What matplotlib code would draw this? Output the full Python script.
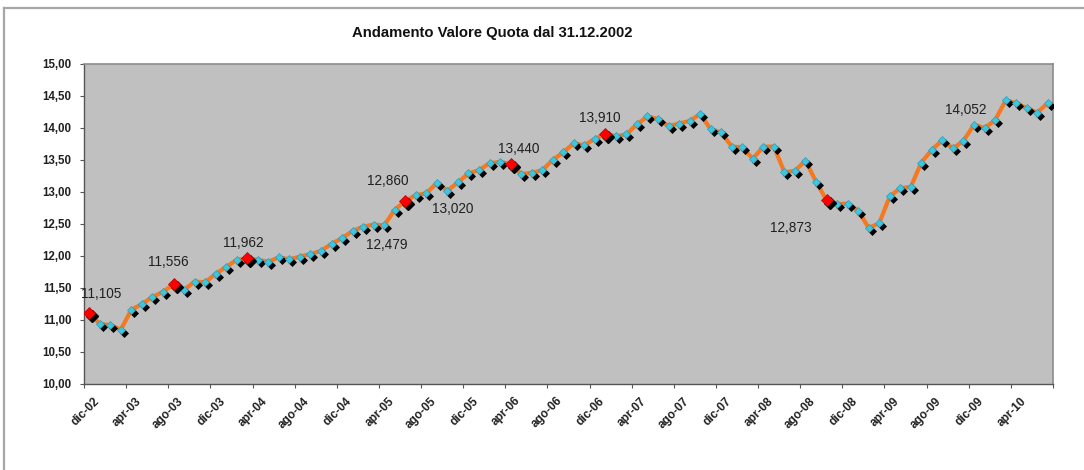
import matplotlib
matplotlib.use('Agg')
import numpy as np
import matplotlib.pyplot as plt
import matplotlib.transforms as mtransforms
from matplotlib.lines import Line2D

plt.rcParams['font.family'] = ['Liberation Sans', 'DejaVu Sans']

# ---------------- data ----------------
title = "Andamento Valore Quota dal 31.12.2002"

# monthly NAV values, dic-02 ... lug-10
values = [
    11.105, 10.94, 10.92, 10.85, 11.16, 11.25, 11.36, 11.44, 11.556, 11.47,
    11.60, 11.59, 11.72, 11.83, 11.94, 11.962, 11.94, 11.91, 11.98, 11.95,
    11.99, 12.03, 12.08, 12.19, 12.28, 12.39, 12.46, 12.49, 12.479, 12.72,
    12.860, 12.95, 12.98, 13.14, 13.020, 13.15, 13.29, 13.34, 13.45, 13.47,
    13.440, 13.28, 13.30, 13.34, 13.50, 13.62, 13.76, 13.73, 13.83, 13.910,
    13.87, 13.90, 14.06, 14.18, 14.14, 14.03, 14.07, 14.11, 14.22, 13.98,
    13.93, 13.71, 13.70, 13.52, 13.71, 13.71, 13.31, 13.33, 13.49, 13.16,
    12.873, 12.81, 12.82, 12.71, 12.44, 12.51, 12.93, 13.06, 13.08, 13.46,
    13.66, 13.81, 13.68, 13.80, 14.052, 14.00, 14.12, 14.43, 14.39, 14.31,
    14.24, 14.39,
]

tick_labels = ['dic-02', 'apr-03', 'ago-03', 'dic-03', 'apr-04', 'ago-04',
               'dic-04', 'apr-05', 'ago-05', 'dic-05', 'apr-06', 'ago-06',
               'dic-06', 'apr-07', 'ago-07', 'dic-07', 'apr-08', 'ago-08',
               'dic-08', 'apr-09', 'ago-09', 'dic-09', 'apr-10']

y_ticks = [10.0, 10.5, 11.0, 11.5, 12.0, 12.5, 13.0, 13.5, 14.0, 14.5, 15.0]

highlight_idx = [0, 8, 15, 30, 40, 49, 70]          # red diamonds
label_idx = [0, 8, 15, 28, 30, 34, 40, 49, 70, 84]   # data labels

# label offsets in pixels (dx, dy) -- layout only
label_offsets = [(12, 19), (-5, 22), (-4, 15), (3, -20), (-17, 20),
                 (5, -18), (8, 15), (-6, 15.5), (-36, -27.5), (-8, 15)]

# ---------------- figure ----------------
W, H = 1084, 470
fig = plt.figure(figsize=(W / 100, H / 100), dpi=100)
fig.patch.set_facecolor('white')

L, R, T, B = 84, 1053, 64, 384
ax = fig.add_axes([L / W, 1 - B / H, (R - L) / W, (B - T) / H])
ax.set_facecolor('#C0C0C0')

n = len(values)
x = np.arange(n) + 0.5
v = np.array(values)

ax.set_xlim(0, n)
ax.set_ylim(10, 15)

# line
ax.plot(x, v, color='#F47920', lw=3.0, zorder=3, solid_joinstyle='round')

# shadows
shadow = ax.transData + mtransforms.ScaledTranslation(3 / 100, -3 / 100, fig.dpi_scale_trans)
ax.plot(x, v, ls='none', marker='D', ms=3.9, mfc='black', mec='black', mew=0.5,
        transform=shadow, zorder=4)
# cyan markers
ax.plot(x, v, ls='none', marker='D', ms=3.9, mfc='#3EC6DA', mec='#2C9CC0', mew=0.5,
        zorder=5)
# red markers
hx = x[highlight_idx]
hv = v[highlight_idx]
ax.plot(hx, hv, ls='none', marker='D', ms=6.2, mfc='black', mec='black',
        transform=shadow, zorder=6)
ax.plot(hx, hv, ls='none', marker='D', ms=6.2, mfc='#FF0000', mec='#C00000', mew=0.5,
        zorder=7)

# data labels
for i, (dx, dy) in zip(label_idx, label_offsets):
    txt = f"{values[i]:.3f}".replace('.', ',')
    ax.annotate(txt, xy=(x[i], v[i]), xytext=(dx, dy), textcoords='offset pixels',
                ha='center', va='center', fontsize=9.8, color='#202020', zorder=8)

# y axis
ax.set_yticks(y_ticks)
ax.set_yticklabels([f"{t:.2f}".replace('.', ',') for t in y_ticks])
ax.tick_params(axis='y', direction='out', length=3, width=0.8, color='#555555',
               labelsize=8.3, pad=6, labelcolor='#202020')
for lab in ax.get_yticklabels():
    lab.set_fontweight('bold')

# x axis
major = np.arange(0, n + 1, 4)
ax.set_xticks(major)
ax.set_xticklabels([''] * len(major))
ax.tick_params(axis='x', direction='out', length=3, width=0.8, color='#555555')
lab_tr = mtransforms.blended_transform_factory(ax.transData, ax.transAxes)
for k, lab in enumerate(tick_labels):
    off = mtransforms.ScaledTranslation(9 / 100, -11 / 100, fig.dpi_scale_trans)
    ax.text(major[k], 0, lab, transform=lab_tr + off, rotation=45,
            rotation_mode='anchor', ha='right', va='top', fontsize=8.5,
            fontweight='bold', color='#202020')

for side in ['left', 'bottom']:
    ax.spines[side].set_color('#555555')
    ax.spines[side].set_linewidth(1.0)
for side in ['top', 'right']:
    ax.spines[side].set_color('#8C8C8C')
    ax.spines[side].set_linewidth(1.2)

# title
fig.text(492 / W, 1 - 33 / H, title, ha='center', va='center', fontsize=10.7,
         fontweight='bold', color='#111111')

# chart border (partially visible)
fig.add_artist(Line2D([4 / W, 1.0], [1 - 8 / H, 1 - 8 / H], transform=fig.transFigure,
                      color='#A6A6A6', lw=1.6))
fig.add_artist(Line2D([4 / W, 4 / W], [1 - 8 / H, 0.0], transform=fig.transFigure,
                      color='#A6A6A6', lw=1.6))

fig.savefig('out.png', dpi=100)
